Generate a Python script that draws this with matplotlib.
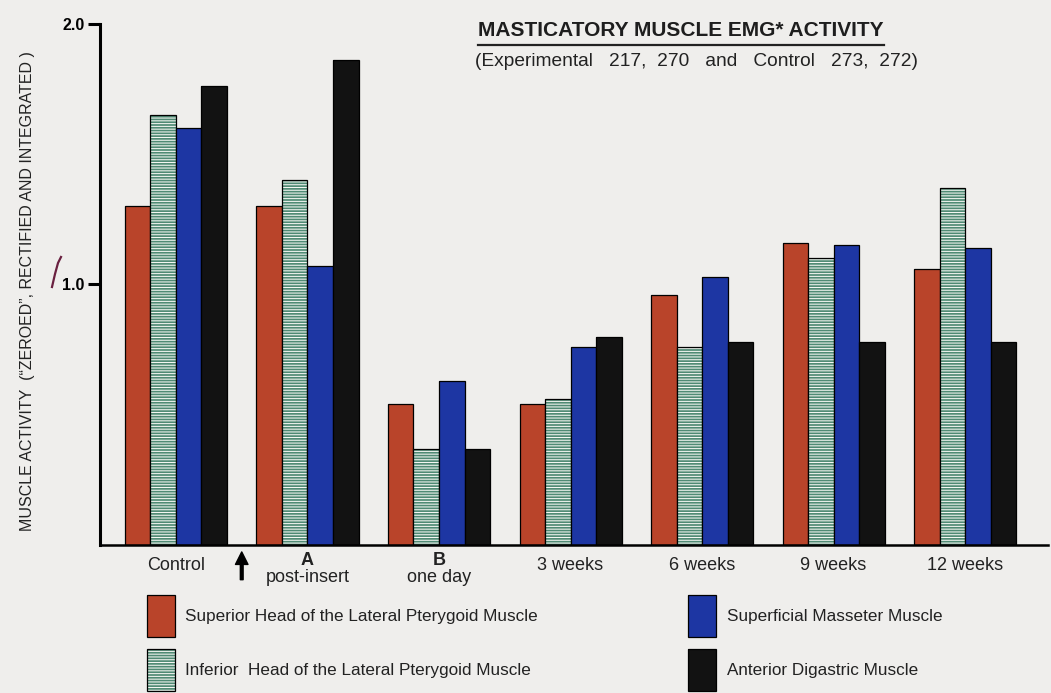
import matplotlib
matplotlib.use("Agg")
import matplotlib.pyplot as plt
import matplotlib.transforms as mtransforms
from matplotlib.lines import Line2D
import numpy as np

plt.rcParams['font.family'] = ['Liberation Sans', 'DejaVu Sans']
plt.rcParams['hatch.color'] = '#f4f6f2'
plt.rcParams['hatch.linewidth'] = 0.75

# ---- data -------------------------------------------------------------
stages = ["Control", "A", "B", "3 weeks", "6 weeks", "9 weeks", "12 weeks"]
stage_notes = ["", "post-insert", "one day", "", "", "", ""]
muscles = ["Superior Head of the Lateral Pterygoid Muscle",
           "Inferior  Head of the Lateral Pterygoid Muscle",
           "Superficial Masseter Muscle",
           "Anterior Digastric Muscle"]
superior_lp = [1.30, 1.30, 0.54, 0.54, 0.96, 1.16, 1.06]
inferior_lp = [1.65, 1.40, 0.37, 0.56, 0.76, 1.10, 1.37]
masseter    = [1.60, 1.07, 0.63, 0.76, 1.03, 1.15, 1.14]
digastric   = [1.76, 1.86, 0.37, 0.80, 0.78, 0.78, 0.78]
yticks = [1.0, 2.0]
ytick_labels = ["1.0", "2.0"]

# ---- style ------------------------------------------------------------
BG = "#efeeec"
colors = ["#b9442a", "#4f8a74", "#1d36a3", "#121212"]
hatches = [None, "------", None, None]

fig = plt.figure(figsize=(10.51, 6.93), dpi=100, facecolor=BG)
ax = fig.add_axes([0.0951, 0.2136, 0.902, 0.7518])
ax.set_facecolor(BG)

x = np.arange(len(stages))
w = 0.194
series = [superior_lp, inferior_lp, masseter, digastric]
handles = []
for i, (vals, c, h) in enumerate(zip(series, colors, hatches)):
    pos = x + (i - 1.5) * w
    filled = ax.bar(pos, vals, w, color=c, hatch=h, linewidth=0)
    outline = ax.bar(pos, vals, w, fill=False, edgecolor="black", linewidth=0.9)
    handles.append((filled, outline))

ax.set_xlim(-0.578, 6.63)
ax.set_ylim(0, 2.0)

for side in ("top", "right"):
    ax.spines[side].set_visible(False)
ax.spines["left"].set_linewidth(2.2)
ax.spines["bottom"].set_linewidth(1.8)

ax.set_xticks([])
ax.set_yticks(yticks, ytick_labels, fontsize=11.5, fontweight="bold")
ax.tick_params(axis="y", direction="out", length=9, width=2.2, pad=2)

# group labels under the axis
xtrans = ax.get_xaxis_transform()
for xi, name, note in zip(x, stages, stage_notes):
    if note:
        ax.annotate(name, xy=(xi, 0), xycoords=xtrans, xytext=(0, -11),
                    textcoords="offset points", ha="center", va="center",
                    fontsize=13, fontweight="bold", color="#222222")
        ax.annotate(note, xy=(xi, 0), xycoords=xtrans, xytext=(0, -23.5),
                    textcoords="offset points", ha="center", va="center",
                    fontsize=13, color="#222222")
    else:
        ax.annotate(name, xy=(xi, 0), xycoords=xtrans, xytext=(0, -15),
                    textcoords="offset points", ha="center", va="center",
                    fontsize=13, color="#222222")

# insert marker between the control and post-insert groups
tip = mtransforms.offset_copy(xtrans, fig=fig, y=-5, units="points")
ax.annotate("", xy=(0.5, 0), xycoords=tip, xytext=(0, -20),
            textcoords="offset points",
            arrowprops=dict(arrowstyle="simple,head_width=0.9,head_length=0.9,tail_width=0.2",
                            mutation_scale=10, color="black", shrinkA=0, shrinkB=0))

# axis title
fig.text(28 / 1051, 0.58,
         "MUSCLE ACTIVITY  (\u201cZEROED\u201d, RECTIFIED AND INTEGRATED )",
         rotation=90, ha="center", va="center", fontsize=11.5, color="#222222")

# figure heading with underline
title = fig.text(681 / 1051, 1 - 30 / 693, "MASTICATORY MUSCLE EMG* ACTIVITY",
                 ha="center", va="center", fontsize=15, fontweight="bold",
                 color="#1e1e1e")
fig.text(475 / 1051, 1 - 61 / 693,
         "(Experimental   217,  270   and   Control   273,  272)",
         ha="left", va="center", fontsize=13.8, color="#222222")
fig.canvas.draw()
bb = title.get_window_extent().transformed(fig.transFigure.inverted())
uy = 1 - 45 / 693
fig.add_artist(Line2D([bb.x0, bb.x1], [uy, uy], transform=fig.transFigure,
                      color="#222222", linewidth=1.6))

# pen mark beside the 1.0 tick
fig.add_artist(Line2D([52 / 1051, 55 / 1051, 58 / 1051, 61 / 1051],
                      [1 - 287 / 693, 1 - 274 / 693, 1 - 263 / 693, 1 - 257 / 693],
                      transform=fig.transFigure, color="#6a2040", linewidth=1.6))

# legend
fs = 12.3
fig.legend(handles, muscles, ncol=2, loc="upper left",
           bbox_to_anchor=(147 / 1051, 1 - 595 / 693), frameon=False,
           fontsize=fs, handlelength=1.64, handleheight=3.4, handletextpad=0.6,
           labelspacing=0.7, columnspacing=8.8, borderpad=0, borderaxespad=0,
           labelcolor="#222222")

fig.savefig("out.png", dpi=100, facecolor=BG)
